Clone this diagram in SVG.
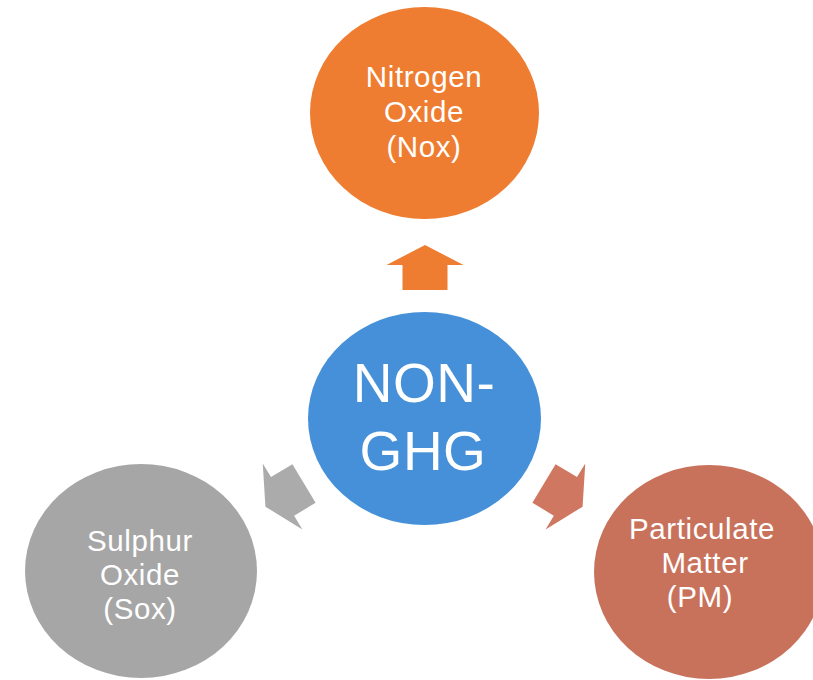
<svg xmlns="http://www.w3.org/2000/svg" width="813" height="680" viewBox="0 0 813 680">
<defs>
<style>
.lbl{font-family:"Liberation Sans",Arial,sans-serif;font-size:29.5px;letter-spacing:0.6px;fill:#ffffff;text-anchor:middle}
.big{font-family:"Liberation Sans",Arial,sans-serif;font-size:55px;letter-spacing:0.5px;fill:#ffffff;text-anchor:middle}
</style>
<path id="arr" d="M0,-22.5 L25,-22.5 L25,-38.5 L45,0 L25,38.5 L25,22.5 L0,22.5 Z"/>
</defs>
<rect width="813" height="680" fill="#ffffff"/>
<g id="connectors">
<use href="#arr" fill="#EE7D31" transform="translate(425,290) rotate(-90)"/>
<use href="#arr" fill="#ABABAB" transform="translate(304,483.5) rotate(149)"/>
<use href="#arr" fill="#CF7760" transform="translate(544,483.5) rotate(31)"/>
</g>
<g id="nox">
<ellipse cx="424.5" cy="113" rx="114.5" ry="106" fill="#EE7D31"/>
<text class="lbl" x="424" y="87">Nitrogen</text>
<text class="lbl" x="424" y="122">Oxide</text>
<text class="lbl" x="424" y="157">(Nox)</text>
</g>
<g id="center">
<ellipse cx="424.5" cy="418.5" rx="116.5" ry="106.5" fill="#4590D8"/>
<text class="big" x="424" y="402">NON-</text>
<text class="big" x="423" y="470">GHG</text>
</g>
<g id="sox">
<ellipse cx="141" cy="571" rx="116" ry="107" fill="#A6A6A6"/>
<text class="lbl" x="140" y="551">Sulphur</text>
<text class="lbl" x="140" y="585">Oxide</text>
<text class="lbl" x="140" y="619">(Sox)</text>
</g>
<g id="pm">
<ellipse cx="709" cy="572" rx="115" ry="107" fill="#C8725C"/>
<text class="lbl" x="702" y="539">Particulate</text>
<text class="lbl" x="705" y="573">Matter</text>
<text class="lbl" x="700" y="607">(PM)</text>
</g>
</svg>
